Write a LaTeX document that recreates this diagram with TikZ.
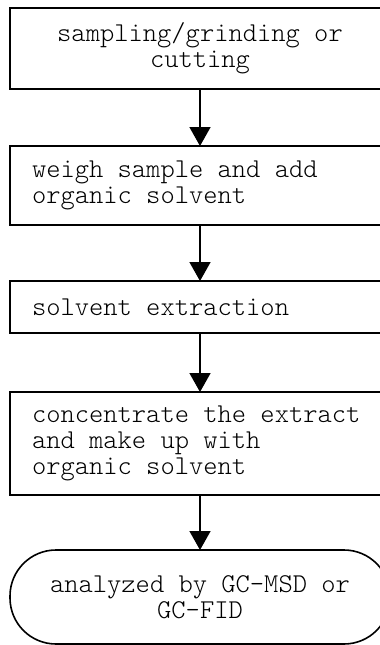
\documentclass[tikz,border=0pt]{standalone}
\usepackage{fontspec}
\newfontfamily\stepfont{Latin Modern Mono Light}
\usepackage{tikz}
\usetikzlibrary{arrows.meta,%
                positioning}

\begin{document}
\begin{tikzpicture}[x=1pt,y=-1pt,node distance=57pt]
\tikzset{BoxStyle/.style = {shape          = rectangle,
                             draw,
                             line width     = 1.6pt,
                             inner xsep     = 22pt,
                             inner ysep     = 0pt,
                             outer sep      = 0pt,
                             text width     = 336pt,
                             align          = flush left,
                             font           = \fontsize{27.2}{26}\selectfont\stepfont},
         EndStyle/.style = {BoxStyle,
                             rounded corners = 46pt,
                             align          = flush center},
         ArrowStyle/.style = {line width=1.6pt,-{Triangle[width=21pt,length=19pt]}}}
     \useasboundingbox (0,0) rectangle (380,645);
     \clip (0,0) rectangle (380,645);
     \node[BoxStyle,align=flush center,minimum height=81pt] (S) at (200,48.5) {sampling/grinding or\\cutting};
     \node[BoxStyle,minimum height=79pt,below=of S] (W) {weigh sample and add\\organic solvent};
     \node[BoxStyle,minimum height=52pt,below=56pt of W] (E) {solvent extraction};
     \node[BoxStyle,minimum height=103pt,below=59pt of E] (C) {concentrate the extract\\and make up with\\organic solvent};
     \node[EndStyle,minimum height=94pt,below=55pt of C] (A) {analyzed by GC-MSD or\\GC-FID};
     %\draw[ArrowStyle] (S) -- (A);
     \draw[ArrowStyle] (S) -- (W);
     \draw[ArrowStyle] (W) -- (E);
     \draw[ArrowStyle] (E) -- (C);
     \draw[ArrowStyle] (C) -- (A);
  \end{tikzpicture}
\end{document}
